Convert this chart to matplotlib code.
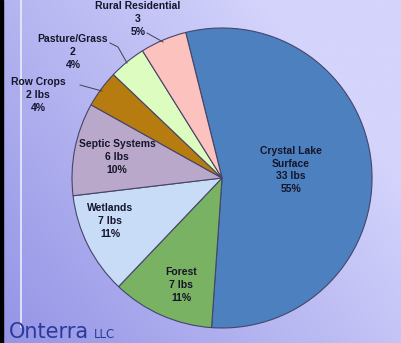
"""
Phosphorus loading by source, Crystal Lake - pie chart.
"""
import numpy as np
import matplotlib.pyplot as plt
from matplotlib.patches import Rectangle

# data
sources = ['Crystal Lake\nSurface', 'Forest', 'Wetlands', 'Septic Systems',
           'Row Crops', 'Pasture/Grass', 'Rural Residential']
pounds = ['33 lbs', '7 lbs', '7 lbs', '6 lbs', '2 lbs', '2', '3']
percent = [55, 11, 11, 10, 4, 4, 5]

colors = ['#4d80bf', '#7ab263', '#c8dcf8', '#b9a8c9', '#b67c10', '#dcfcc0', '#fcc3be']
explode = [0.055, 0, 0, 0, 0, 0, 0]

W, H = 402, 343
fig = plt.figure(figsize=(W / 100, H / 100), dpi=100)
ax = fig.add_axes([0, 0, 1, 1])

# background gradient (dark bottom-left -> light top-right)
u = np.linspace(0, 1, 200)
v = np.linspace(0, 1, 200)
U, V = np.meshgrid(u, v)
t = np.clip(0.75 * U + 0.5 * V, 0, 1)
c0 = np.array([148, 148, 230]) / 255
c1 = np.array([212, 212, 252]) / 255
bg = c0 + t[..., None] * (c1 - c0)
ax.imshow(bg, extent=[0, W, 0, H], origin='lower', aspect='auto', zorder=0)

ax.add_patch(Rectangle((0, 0), 3, H, color='black', zorder=1))
ax.plot([21, 21], [H - 327, H], color='#ececff', lw=1.2, zorder=1)

cx, cy, r = 222, H - 178, 150
wedges, _ = ax.pie(percent, colors=colors, explode=explode, startangle=104,
                   counterclock=False, center=(cx, cy), radius=r,
                   wedgeprops=dict(edgecolor='#45456a', linewidth=0.8))
for w in wedges:
    w.set_zorder(2)

font = dict(family=['Liberation Sans', 'DejaVu Sans'], fontsize=7.5,
            fontweight='bold', color='#15152a', ha='center', va='center',
            linespacing=1.35, zorder=4)

# label anchor points in image pixels (x, y from top)
label_pos = [(291, 170), (181, 285), (110, 221), (117, 157),
             (38, 95), (73, 52), (138, 19)]
for name, lb, pc, (x, y) in zip(sources, pounds, percent, label_pos):
    ax.text(x, H - y, f'{name}\n{lb}\n{pc}%', **font)

# leader lines for outside labels
leaders = [[(80, 85), (102, 91)],
           [(110, 43), (118, 47), (127, 63)],
           [(147, 33), (163, 42)]]
for pts in leaders:
    xs = [p[0] for p in pts]
    ys = [H - p[1] for p in pts]
    ax.plot(xs, ys, color='#404050', lw=0.7, zorder=3)

ax.text(9, H - 332, 'Onterra', family='DejaVu Sans', fontsize=15,
        color='#2a3a9a', ha='left', va='center', zorder=4)
ax.text(94, H - 334, 'LLC', family='DejaVu Sans', fontsize=8.5,
        color='#2a3a9a', ha='left', va='center', zorder=4)

ax.set_xlim(0, W)
ax.set_ylim(0, H)
ax.set_aspect('auto')
ax.axis('off')

fig.savefig('out.png', dpi=100)
